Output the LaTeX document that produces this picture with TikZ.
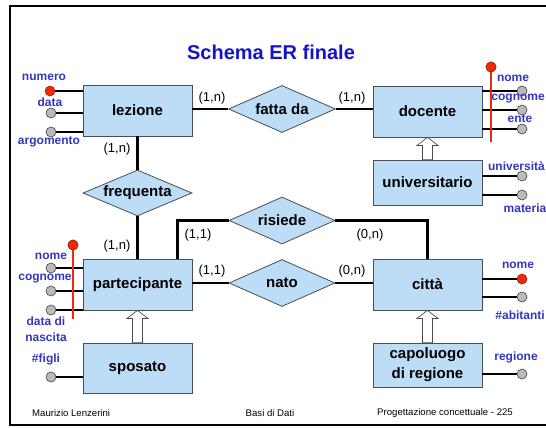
\documentclass[tikz,border=0pt]{standalone}
\usepackage{fontspec}
\setmainfont{Liberation Sans}
\usetikzlibrary{shapes.geometric}
\definecolor{ent}{HTML}{BCDDF5}
\definecolor{attr}{HTML}{3535C0}
\definecolor{ttl}{HTML}{1414C8}
\definecolor{keyred}{HTML}{EE2A0A}
\definecolor{bord}{HTML}{46505A}
\definecolor{gcirc}{HTML}{BBBBBB}
\begin{document}
\begin{tikzpicture}[x=1pt,y=-1pt,
  entity/.style={draw=bord, line width=0.8pt, fill=ent, minimum width=109pt, minimum height=51pt,
    font=\bfseries\fontsize{15}{20}\selectfont, inner sep=0pt, align=center},
  rel/.style={diamond, draw=bord, line width=0.8pt, fill=ent, minimum width=107pt, minimum height=47pt,
    aspect=2.3, inner sep=0pt, font=\bfseries\fontsize{15}{17}\selectfont},
  card/.style={font=\fontsize{13}{15}\selectfont, inner sep=0pt},
  alabel/.style={font=\bfseries\fontsize{12}{13}\selectfont, text=attr, inner sep=0pt},
  gattr/.style={circle, draw=black!75, fill=gcirc, line width=0.6pt, minimum size=10pt, inner sep=0pt},
  kattr/.style={circle, draw=keyred!70!black, fill=keyred, line width=0.6pt, minimum size=10pt, inner sep=0pt},
  conn/.style={line width=2.4pt, black},
  aline/.style={line width=2pt, black},
  keybar/.style={line width=2.8pt, keyred},
  isastyle/.style={draw=black!70, fill=white, line width=0.7pt},
  foot/.style={font=\fontsize{9.6}{11}\selectfont, inner sep=0pt}]
\useasboundingbox (0,0) rectangle (546,428);
\clip (0,0) rectangle (546,428);
% frame
\draw[line width=2pt] (10,6) rectangle (560,425);
% title
\node[font=\bfseries\fontsize{20}{22}\selectfont, text=ttl] (title) at (271,52) {Schema ER finale};
% entities
\node[entity] (lez) at (137.5,110.5) {lezione};
\node[entity] (doc) at (427.5,111.5) {docente};
\node[entity, minimum height=45pt] (univ) at (427.5,182.5) {universitario};
\node[entity] (part) at (137.5,284.5) {partecipante};
\node[entity, minimum height=50pt] (spos) at (137.5,368) {sposato};
\node[entity] (citta) at (427.5,284.5) {città};
\node[entity, minimum height=44pt] (capo) at (427.5,365) {capoluogo\\di regione};
% relationships
\node[rel] (fatta) at (282,109) {fatta da};
\node[rel, minimum width=109pt, minimum height=46pt] (freq) at (137.5,193) {frequenta};
\node[rel, minimum width=106pt] (ris) at (282,220.5) {risiede};
\node[rel, minimum width=106pt] (nato) at (282,283) {nato};
% connectors
\draw[conn] (fatta.west) -- (fatta.west -| lez.east);
\draw[conn] (fatta.east) -- (fatta.east -| doc.west);
\draw[conn] (lez.south) -- (freq.north);
\draw[conn] (freq.south) -- (part.north);
\draw[conn] (ris.west) -| ([xshift=-15pt]part.north east);
\draw[conn] (ris.east) -| (citta.north);
\draw[conn] (nato.west) -- (nato.west -| part.east);
\draw[conn] (nato.east) -- (nato.east -| citta.west);
% cardinalities
\node[card] (c1) at (212,98) {(1,n)};
\node[card] (c2) at (352,98) {(1,n)};
\node[card] (c3) at (117,149) {(1,n)};
\node[card] (c4) at (117,246) {(1,n)};
\node[card] (c5) at (198,235) {(1,1)};
\node[card] (c6) at (370,235) {(0,n)};
\node[card] (c7) at (212,271) {(1,1)};
\node[card] (c8) at (352,271) {(0,n)};
% ISA arrows
\draw[isastyle] (doc.south) -- ([xshift=-10.5pt,yshift=-8pt]doc.south) -- ([xshift=-5pt,yshift=-8pt]doc.south)
  -- ([xshift=-5pt]univ.north) -- ([xshift=5pt]univ.north) -- ([xshift=5pt,yshift=-8pt]doc.south)
  -- ([xshift=10.5pt,yshift=-8pt]doc.south) -- cycle;
\draw[isastyle] (part.south) -- ([xshift=-10.5pt,yshift=-8pt]part.south) -- ([xshift=-5pt,yshift=-8pt]part.south)
  -- ([xshift=-5pt]spos.north) -- ([xshift=5pt]spos.north) -- ([xshift=5pt,yshift=-8pt]part.south)
  -- ([xshift=10.5pt,yshift=-8pt]part.south) -- cycle;
\draw[isastyle] (citta.south) -- ([xshift=-10.5pt,yshift=-8pt]citta.south) -- ([xshift=-5pt,yshift=-8pt]citta.south)
  -- ([xshift=-5pt]capo.north) -- ([xshift=5pt]capo.north) -- ([xshift=5pt,yshift=-8pt]citta.south)
  -- ([xshift=10.5pt,yshift=-8pt]citta.south) -- cycle;
% lezione attributes
\node[kattr] (lz1) at (50,91) {};
\node[gattr] (lz2) at (51,113) {};
\node[gattr] (lz3) at (51,132) {};
\draw[aline] (lz1.east) -- (lz1.east -| lez.west);
\draw[aline] (lz2.east) -- (lz2.east -| lez.west);
\draw[aline] (lz3.east) -- (lz3.east -| lez.west);
\node[alabel] (lzl1) at (44,77) {numero};
\node[alabel] (lzl2) at (50,102) {data};
\node[alabel] (lzl3) at (49,142) {argomento};
% docente attributes
\node[gattr] (dc1) at (522,91) {};
\node[gattr] (dc2) at (522,110) {};
\node[gattr] (dc3) at (522,129) {};
\draw[aline] (dc1.west) -- (dc1.west -| doc.east);
\draw[aline] (dc2.west) -- (dc2.west -| doc.east);
\draw[aline] (dc3.west) -- (dc3.west -| doc.east);
\node[kattr] (dck) at (491,67) {};
\coordinate (dcb) at (491,142);
\draw[keybar] (dck.center) -- (dcb);
\node[kattr] at (dck) {};
\node[alabel] (dcl1) at (513,78) {nome};
\node[alabel, anchor=east] (dcl2) at (545,99) {cognome};
\node[alabel] (dcl3) at (520,119) {ente};
% universitario attributes
\node[gattr] (un1) at (522,176) {};
\node[gattr] (un2) at (522,195) {};
\draw[aline] (un1.west) -- (un1.west -| univ.east);
\draw[aline] (un2.west) -- (un2.west -| univ.east);
\node[alabel, anchor=east] (unl1) at (545,166) {università};
\node[alabel] (unl2) at (525,208) {materia};
% partecipante attributes
\node[gattr] (pa1) at (51,268) {};
\node[gattr] (pa2) at (51,291) {};
\node[gattr] (pa3) at (51,310) {};
\draw[aline] (pa1.east) -- (pa1.east -| part.west);
\draw[aline] (pa2.east) -- (pa2.east -| part.west);
\draw[aline] (pa3.east) -- (pa3.east -| part.west);
\node[kattr] (pak) at (73,245) {};
\coordinate (pab) at (73,319);
\draw[keybar] (pak.center) -- (pab);
\node[kattr] at (pak) {};
\node[alabel] (pal1) at (51,256) {nome};
\node[alabel] (pal2) at (45,279) {cognome};
\node[alabel, align=center, font=\bfseries\fontsize{12}{16}\selectfont] (pal3) at (46,329) {data di\\nascita};
% sposato attribute
\node[gattr] (sp1) at (51,377) {};
\draw[aline] (sp1.east) -- (sp1.east -| spos.west);
\node[alabel] (spl1) at (46,359) {\#figli};
% citta attributes
\node[kattr] (ct1) at (522,279) {};
\node[gattr] (ct2) at (522,297) {};
\draw[aline] (ct1.west) -- (ct1.west -| citta.east);
\draw[aline] (ct2.west) -- (ct2.west -| citta.east);
\node[alabel] (ctl1) at (518,265) {nome};
\node[alabel, anchor=east] (ctl2) at (545,315) {\#abitanti};
% capoluogo attribute
\node[gattr] (cp1) at (522,374) {};
\draw[aline] (cp1.west) -- (cp1.west -| capo.east);
\node[alabel] (cpl1) at (516,357) {regione};
% footer
\node[foot, anchor=west] (f1) at (32,413) {Maurizio Lenzerini};
\node[foot] (f2) at (270,413) {Basi di Dati};
\node[foot, anchor=east] (f3) at (513,413) {Progettazione concettuale - 225};
\end{tikzpicture}
\end{document}
